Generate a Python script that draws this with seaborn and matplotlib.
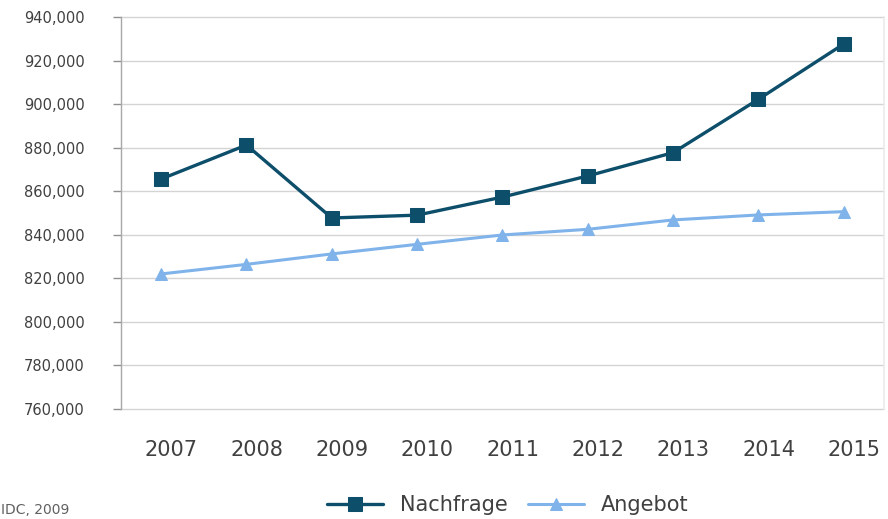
import pandas as pd
import matplotlib
matplotlib.use("Agg")
import matplotlib.pyplot as plt
import seaborn as sns

years = [2007, 2008, 2009, 2010, 2011, 2012, 2013, 2014, 2015]
nachfrage = [865600, 881200, 847700, 849000, 857300, 867000, 877700, 902200, 927600]
angebot = [822000, 826400, 831200, 835600, 839900, 842500, 846800, 849100, 850600]
y_ticks = list(range(760000, 940001, 20000))

sns.set_theme(style="white")
plt.rcParams["font.family"] = ["DejaVu Sans"]

text_color = "#404040"
grid_color = "#d4d4d4"
dark = "#0d4e6b"
light = "#7fb3ea"

df = pd.DataFrame({"Jahr": years, "Nachfrage": nachfrage, "Angebot": angebot})

fig = plt.figure(figsize=(8.88, 5.19), dpi=100)
ax = fig.add_axes([0.1363, 0.212, 0.859, 0.7553])

sns.lineplot(data=df, x="Jahr", y="Nachfrage", ax=ax, color=dark, linewidth=2.4,
             marker="s", markersize=10, markeredgecolor=dark, label="Nachfrage")
sns.lineplot(data=df, x="Jahr", y="Angebot", ax=ax, color=light, linewidth=2.2,
             marker="^", markersize=9, markeredgecolor=light, label="Angebot")

ax.set_xlim(years[0] - 0.47, years[-1] + 0.47)
ax.set_ylim(y_ticks[0], y_ticks[-1])
ax.set_yticks(y_ticks)
ax.set_yticklabels([f"{v:,}" for v in y_ticks], fontsize=10.5, color=text_color)
# year labels sit a little right of the points in the original
ax.set_xticks([y + 0.12 for y in years])
ax.set_xticklabels([str(y) for y in years], fontsize=15, color=text_color)
ax.set_xlabel("")
ax.set_ylabel("")

for v in y_ticks:
    ax.axhline(v, color=grid_color, linewidth=1.0, zorder=0, clip_on=False)

for s in ["top", "bottom"]:
    ax.spines[s].set_visible(False)
ax.spines["right"].set_color("#ececec")
ax.spines["left"].set_color("#a8a8a8")
ax.spines["left"].set_linewidth(1.0)
ax.tick_params(axis="y", length=6, width=1, color="#909090", pad=20, left=True)
ax.tick_params(axis="x", length=0, pad=22)

leg = ax.legend(loc="center", bbox_to_anchor=(0.507, -0.245), ncol=2, frameon=False,
                fontsize=15, handlelength=2.7, handletextpad=0.8, columnspacing=1.0)
for t in leg.get_texts():
    t.set_color(text_color)

fig.text(0.001, 0.004, "IDC, 2009", fontsize=10, color="#606060", va="bottom")

fig.savefig("out.png", dpi=100)
